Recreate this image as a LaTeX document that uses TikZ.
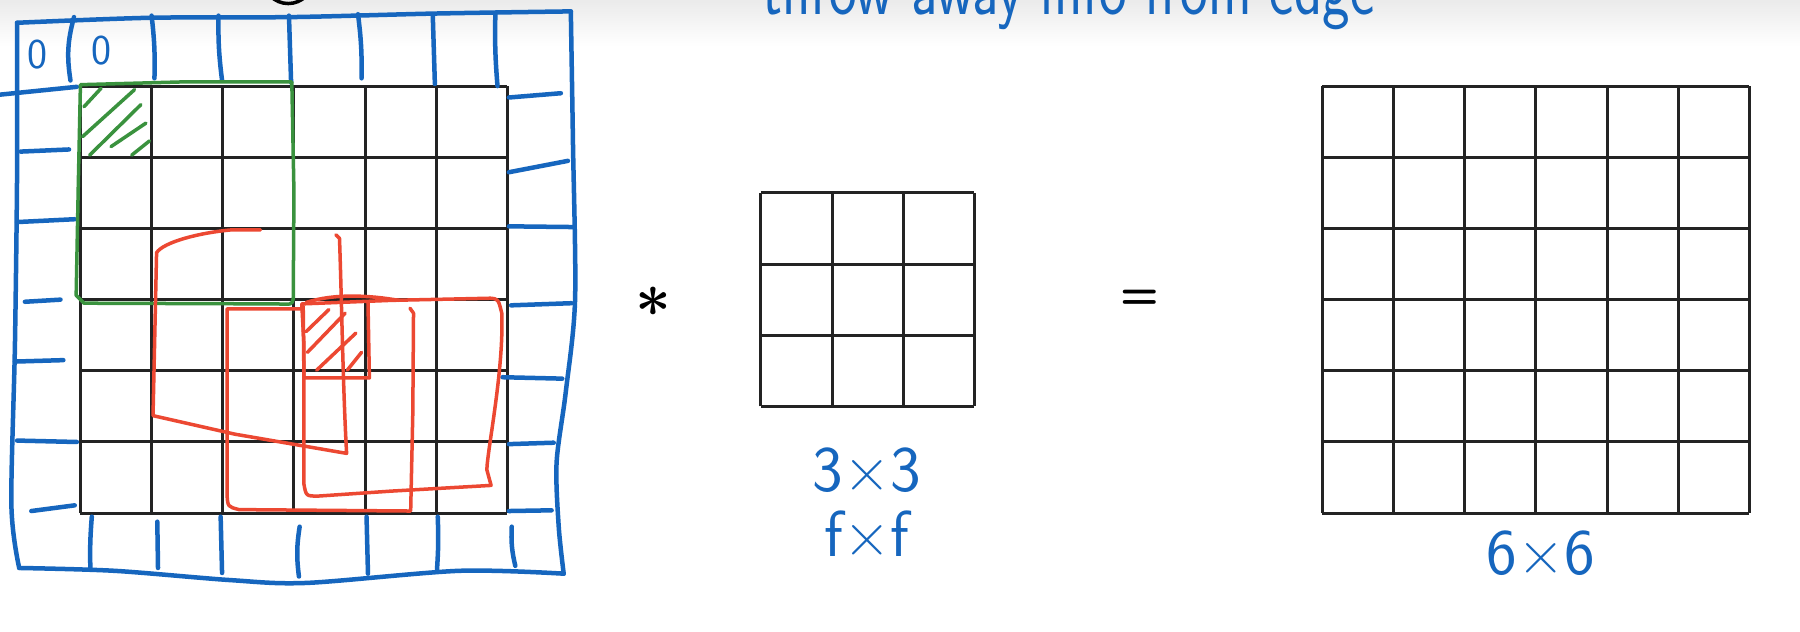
\documentclass[tikz,border=0pt]{standalone}
\usepackage{fontspec}
\usepackage{tikz}
\definecolor{penblue}{RGB}{22,102,190}
\definecolor{pengreen}{RGB}{58,146,62}
\definecolor{penred}{RGB}{236,72,50}
\definecolor{cellline}{RGB}{35,35,35}

\begin{document}
\begin{tikzpicture}[
  cellgrid/.style={cellline, line width=1.2pt},
  padink/.style={penblue, line width=1.8pt, line cap=round, line join=round},
  winred/.style={penred, line width=1.4pt, line cap=round, line join=round},
  wingreen/.style={pengreen, line width=1.4pt, line cap=round, line join=round},
  hand/.style={penblue, font=\sffamily\fontsize{26}{30}\selectfont}]
\useasboundingbox (0,0) rectangle (25.29,-8.87);
\fill[white] (0,0) rectangle (25.29,-8.87);
\clip (0,0) rectangle (25.29,-8.87);
\shade[top color=black!8, bottom color=white] (0,0) rectangle (25.29,-0.65);
% cut-off note at the top
\node[circle, draw, line width=1.4pt, minimum size=0.7cm] (itemtwo) at (4.05,0.30) {2};
\node[penblue, font=\sffamily\fontsize{30}{34}\selectfont, anchor=base west, inner sep=0pt] (note) at (9.68,-0.21) {\scalebox{0.78}[1]{— throw away info from edge}};
% input, filter, output
\draw[cellgrid, shift={(1.13,-7.21)}] (0,0) grid (6,6);
\draw[cellgrid, shift={(10.69,-5.71)}] (0,0) grid (3,3);
\draw[cellgrid, shift={(18.58,-7.21)}] (0,0) grid (6,6);
% padding border
\draw[padink] plot[smooth] coordinates {(0.24,-0.32) (2.10,-0.25) (4.11,-0.24) (6.13,-0.19) (8.02,-0.16)};
\draw[padink] plot[smooth] coordinates {(8.02,-0.16) (8.05,-2.00) (8.08,-4.20) (7.95,-5.50) (7.82,-6.50) (7.85,-7.40) (7.92,-8.06)};
\draw[padink] plot[smooth] coordinates {(7.92,-8.06) (6.45,-8.02) (4.31,-8.19) (3.23,-8.15) (1.61,-8.02) (0.27,-7.98)};
\draw[padink] plot[smooth] coordinates {(0.27,-7.98) (0.16,-7.10) (0.21,-4.84) (0.24,-2.42) (0.24,-0.32)};
% padding cells, top row
\draw[padink] (1.04,-0.24) to[bend right=12] (0.99,-1.13);
\draw[padink] (2.13,-0.22) to[bend left=4] (2.17,-1.10);
\draw[padink] (3.07,-0.22) to[bend right=4] (3.12,-1.13);
\draw[padink] (4.06,-0.22) -- (4.09,-1.16);
\draw[padink] (5.03,-0.20) to[bend left=4] (5.08,-1.10);
\draw[padink] (6.08,-0.20) -- (6.11,-1.18);
\draw[padink] (6.96,-0.19) to[bend right=3] (6.99,-1.21);
% padding cells, bottom row
\draw[padink] (1.29,-7.26) to[bend right=3] (1.27,-8.00);
\draw[padink] (2.21,-7.33) -- (2.22,-7.98);
\draw[padink] (3.10,-7.26) -- (3.12,-8.05);
\draw[padink] (4.21,-7.40) to[bend right=8] (4.20,-8.10);
\draw[padink] (5.15,-7.26) -- (5.17,-8.06);
\draw[padink] (6.15,-7.26) to[bend left=3] (6.14,-8.00);
\draw[padink] (7.19,-7.40) to[bend right=8] (7.24,-7.95);
% padding cells, left column
\draw[padink] (0,-1.33) -- (1.08,-1.22);
\draw[padink] (0.29,-2.13) -- (0.97,-2.10);
\draw[padink] (0.24,-3.12) -- (1.05,-3.08);
\draw[padink] (0.35,-4.24) -- (0.85,-4.21);
\draw[padink] (0.21,-5.08) -- (0.89,-5.06);
\draw[padink] (0.24,-6.19) -- (1.08,-6.21);
\draw[padink] (0.44,-7.18) -- (1.05,-7.10);
% padding cells, right column
\draw[padink] (7.15,-1.37) -- (7.88,-1.31);
\draw[padink] (7.15,-2.42) -- (7.98,-2.26);
\draw[padink] (7.15,-3.18) -- (8.04,-3.19);
\draw[padink] (7.18,-4.29) -- (8.03,-4.26);
\draw[padink] (7.06,-5.30) -- (7.90,-5.32);
\draw[padink] (7.15,-6.24) -- (7.78,-6.22);
\draw[padink] (7.15,-7.18) -- (7.75,-7.17);
\node[penblue, font=\sffamily\fontsize{17}{20}\selectfont] (zeroa) at (0.52,-0.77) {0};
\node[penblue, font=\sffamily\fontsize{17}{20}\selectfont] (zerob) at (1.42,-0.71) {0};
% first window
\draw[wingreen] (1.13,-1.19) -- (2.60,-1.15) -- (4.10,-1.15) -- (4.13,-2.70) -- (4.12,-4.20) .. controls (4.10,-4.28) .. (3.90,-4.27) -- (1.18,-4.26) -- (1.07,-4.15) -- (1.10,-2.60) -- cycle;
\draw[wingreen] (1.18,-1.50) -- (1.42,-1.24);
\draw[wingreen] (1.16,-1.92) -- (1.89,-1.26);
\draw[wingreen] (1.26,-2.18) -- (1.98,-1.47);
\draw[wingreen] (1.56,-2.06) -- (2.05,-1.73);
\draw[wingreen] (1.85,-2.18) -- (2.10,-1.98);
% windows touching the corner cell
\draw[winred] (3.66,-3.23) -- (3.25,-3.23) .. controls (2.80,-3.27) and (2.30,-3.40) .. (2.20,-3.55) -- (2.15,-5.84) -- (3.30,-6.10) -- (4.87,-6.37) .. controls (4.82,-5.50) and (4.80,-4.20) .. (4.77,-3.35) -- (4.72,-3.30);
\draw[winred] (4.23,-4.34) -- (3.19,-4.34) -- (3.19,-6.95) .. controls (3.20,-7.12) .. (3.36,-7.16) -- (5.77,-7.18) -- (5.80,-5.80) -- (5.81,-4.40) -- (5.76,-4.33);
\draw[winred] (4.24,-4.27) -- (5.50,-4.22) -- (6.89,-4.19) .. controls (7.00,-4.20) .. (7.05,-4.40) .. controls (7.08,-5.20) and (6.85,-6.30) .. (6.84,-6.60) -- (6.90,-6.82) -- (5.50,-6.90) -- (4.47,-6.97) .. controls (4.30,-6.97) .. (4.27,-6.80) -- (4.27,-4.84) -- (4.24,-4.27);
\draw[winred] (4.30,-4.25) .. controls (4.70,-4.12) and (5.20,-4.15) .. (5.60,-4.22);
\draw[winred] (4.26,-4.30) -- (4.27,-5.31) -- (5.19,-5.31) -- (5.17,-4.24);
\draw[winred] (4.30,-4.66) -- (4.62,-4.35);
\draw[winred] (4.32,-4.95) -- (4.85,-4.40);
\draw[winred] (4.45,-5.20) -- (5.00,-4.68);
\draw[winred] (4.88,-5.20) -- (5.08,-4.95);
% operators and sizes
\node[font=\fontsize{26}{30}\selectfont\boldmath] (conv) at (9.18,-4.24) {$\ast$};
\node[font=\sffamily\bfseries\fontsize{18}{22}\selectfont] (eq) at (16.02,-4.21) {=};
\node[hand] (fsize) at (12.18,-6.61) {3×3};
\node[hand] (fname) at (12.18,-7.50) {f×f};
\node[hand] (outsize) at (21.65,-7.77) {6×6};
\end{tikzpicture}
\end{document}
